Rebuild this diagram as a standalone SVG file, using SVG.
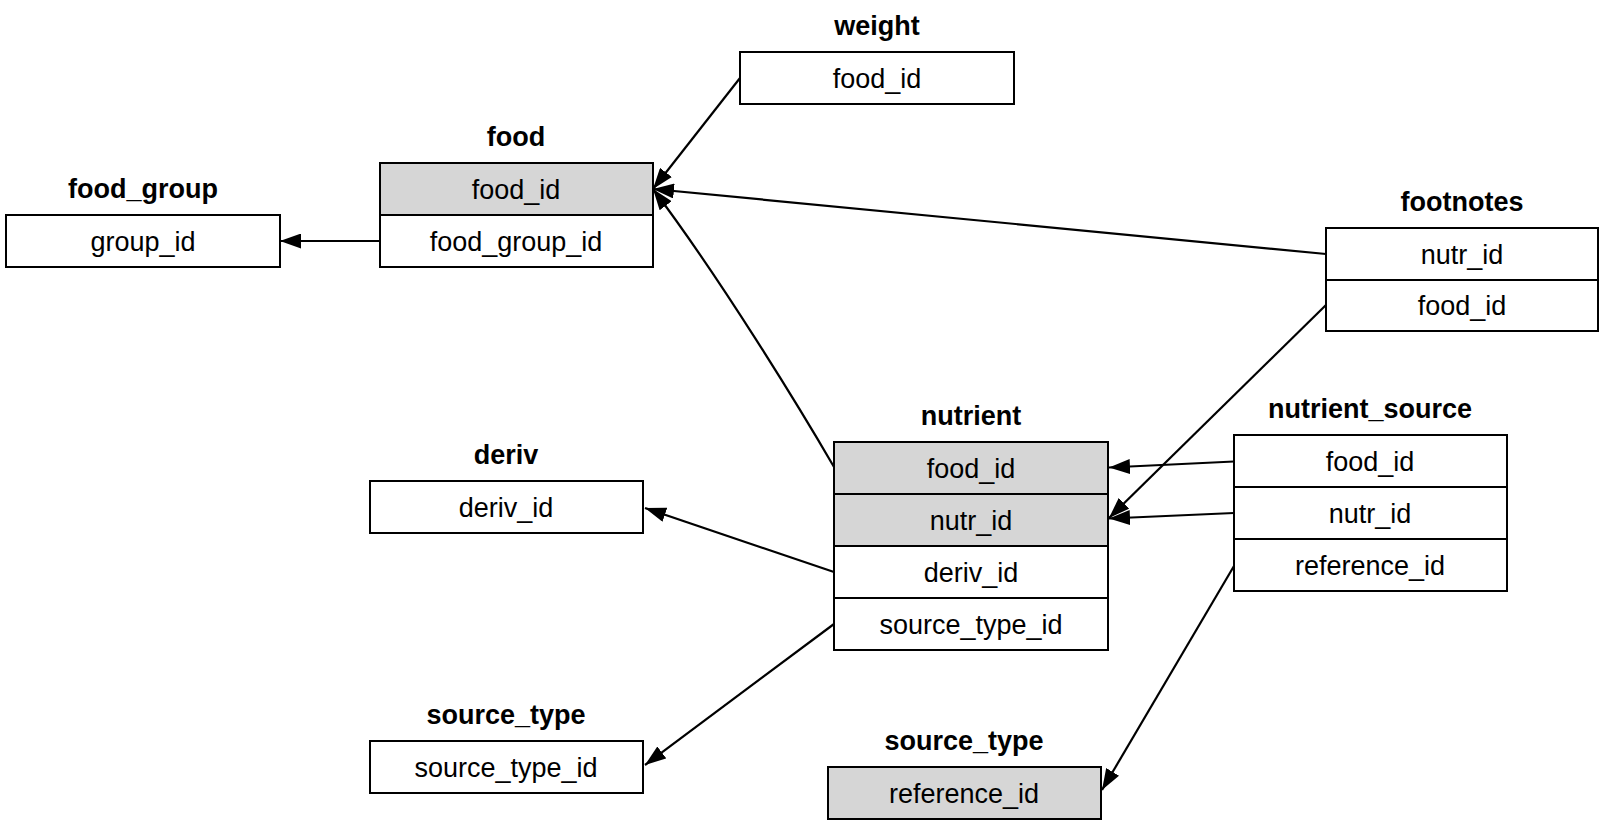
<svg xmlns="http://www.w3.org/2000/svg" width="1604" height="825" viewBox="0 0 1604 825">
<style>
.box{fill:#fff;stroke:#000;stroke-width:2}
.key{fill:#d6d6d6;stroke:#000;stroke-width:2}
.t{font-family:"Liberation Sans",Arial,Helvetica,sans-serif;font-size:27px;text-anchor:middle;fill:#000}
.h{font-family:"Liberation Sans",Arial,Helvetica,sans-serif;font-size:27px;font-weight:bold;text-anchor:middle;fill:#000}
.c{fill:none;stroke:#000;stroke-width:2.2}
</style>
<defs>
<marker id="arr" markerUnits="userSpaceOnUse" viewBox="0 0 21 15" refX="21" refY="7.5" markerWidth="21" markerHeight="15" orient="auto">
<path d="M0,0 L21,7.5 L0,15 z" fill="#000"/>
</marker>
</defs>
<rect width="1604" height="825" fill="#fff"/>
<g id="connectors">
<path class="c" d="M740,78 L653,189" marker-end="url(#arr)"/>
<path class="c" d="M1326,254 L653,189" marker-end="url(#arr)"/>
<path class="c" d="M834,467 C798,405 720,278 653,189" marker-end="url(#arr)"/>
<path class="c" d="M1326,305 L1109,518" marker-end="url(#arr)"/>
<path class="c" d="M1234,461.5 L1109,467.5" marker-end="url(#arr)"/>
<path class="c" d="M1234,513 L1109,518.5" marker-end="url(#arr)"/>
<path class="c" d="M834,572 L645,508" marker-end="url(#arr)"/>
<path class="c" d="M834,624 L645,765" marker-end="url(#arr)"/>
<path class="c" d="M1234,566 L1102,790" marker-end="url(#arr)"/>
<path class="c" d="M380,241 L280,241" marker-end="url(#arr)"/>
</g>
<g id="weight">
<text class="h" x="877" y="35">weight</text>
<rect class="box" x="740" y="52" width="274" height="52"/>
<text class="t" x="877" y="88">food_id</text>
</g>
<g id="food_group">
<text class="h" x="143" y="198">food_group</text>
<rect class="box" x="6" y="215" width="274" height="52"/>
<text class="t" x="143" y="251">group_id</text>
</g>
<g id="food">
<text class="h" x="516" y="146">food</text>
<rect class="key" x="380" y="163" width="273" height="52"/>
<rect class="box" x="380" y="215" width="273" height="52"/>
<text class="t" x="516" y="199">food_id</text>
<text class="t" x="516" y="251">food_group_id</text>
</g>
<g id="footnotes">
<text class="h" x="1462" y="211">footnotes</text>
<rect class="box" x="1326" y="228" width="272" height="52"/>
<rect class="box" x="1326" y="280" width="272" height="51"/>
<text class="t" x="1462" y="264">nutr_id</text>
<text class="t" x="1462" y="315">food_id</text>
</g>
<g id="nutrient">
<text class="h" x="971" y="425">nutrient</text>
<rect class="key" x="834" y="442" width="274" height="52"/>
<rect class="key" x="834" y="494" width="274" height="52"/>
<rect class="box" x="834" y="546" width="274" height="52"/>
<rect class="box" x="834" y="598" width="274" height="52"/>
<text class="t" x="971" y="478">food_id</text>
<text class="t" x="971" y="530">nutr_id</text>
<text class="t" x="971" y="582">deriv_id</text>
<text class="t" x="971" y="634">source_type_id</text>
</g>
<g id="nutrient_source">
<text class="h" x="1370" y="418">nutrient_source</text>
<rect class="box" x="1234" y="435" width="273" height="52"/>
<rect class="box" x="1234" y="487" width="273" height="52"/>
<rect class="box" x="1234" y="539" width="273" height="52"/>
<text class="t" x="1370" y="471">food_id</text>
<text class="t" x="1370" y="523">nutr_id</text>
<text class="t" x="1370" y="575">reference_id</text>
</g>
<g id="deriv">
<text class="h" x="506" y="464">deriv</text>
<rect class="box" x="370" y="481" width="273" height="52"/>
<text class="t" x="506" y="517">deriv_id</text>
</g>
<g id="source_type_left">
<text class="h" x="506" y="724">source_type</text>
<rect class="box" x="370" y="741" width="273" height="52"/>
<text class="t" x="506" y="777">source_type_id</text>
</g>
<g id="source_type_ref">
<text class="h" x="964" y="750">source_type</text>
<rect class="key" x="828" y="767" width="273" height="52"/>
<text class="t" x="964" y="803">reference_id</text>
</g>
</svg>
